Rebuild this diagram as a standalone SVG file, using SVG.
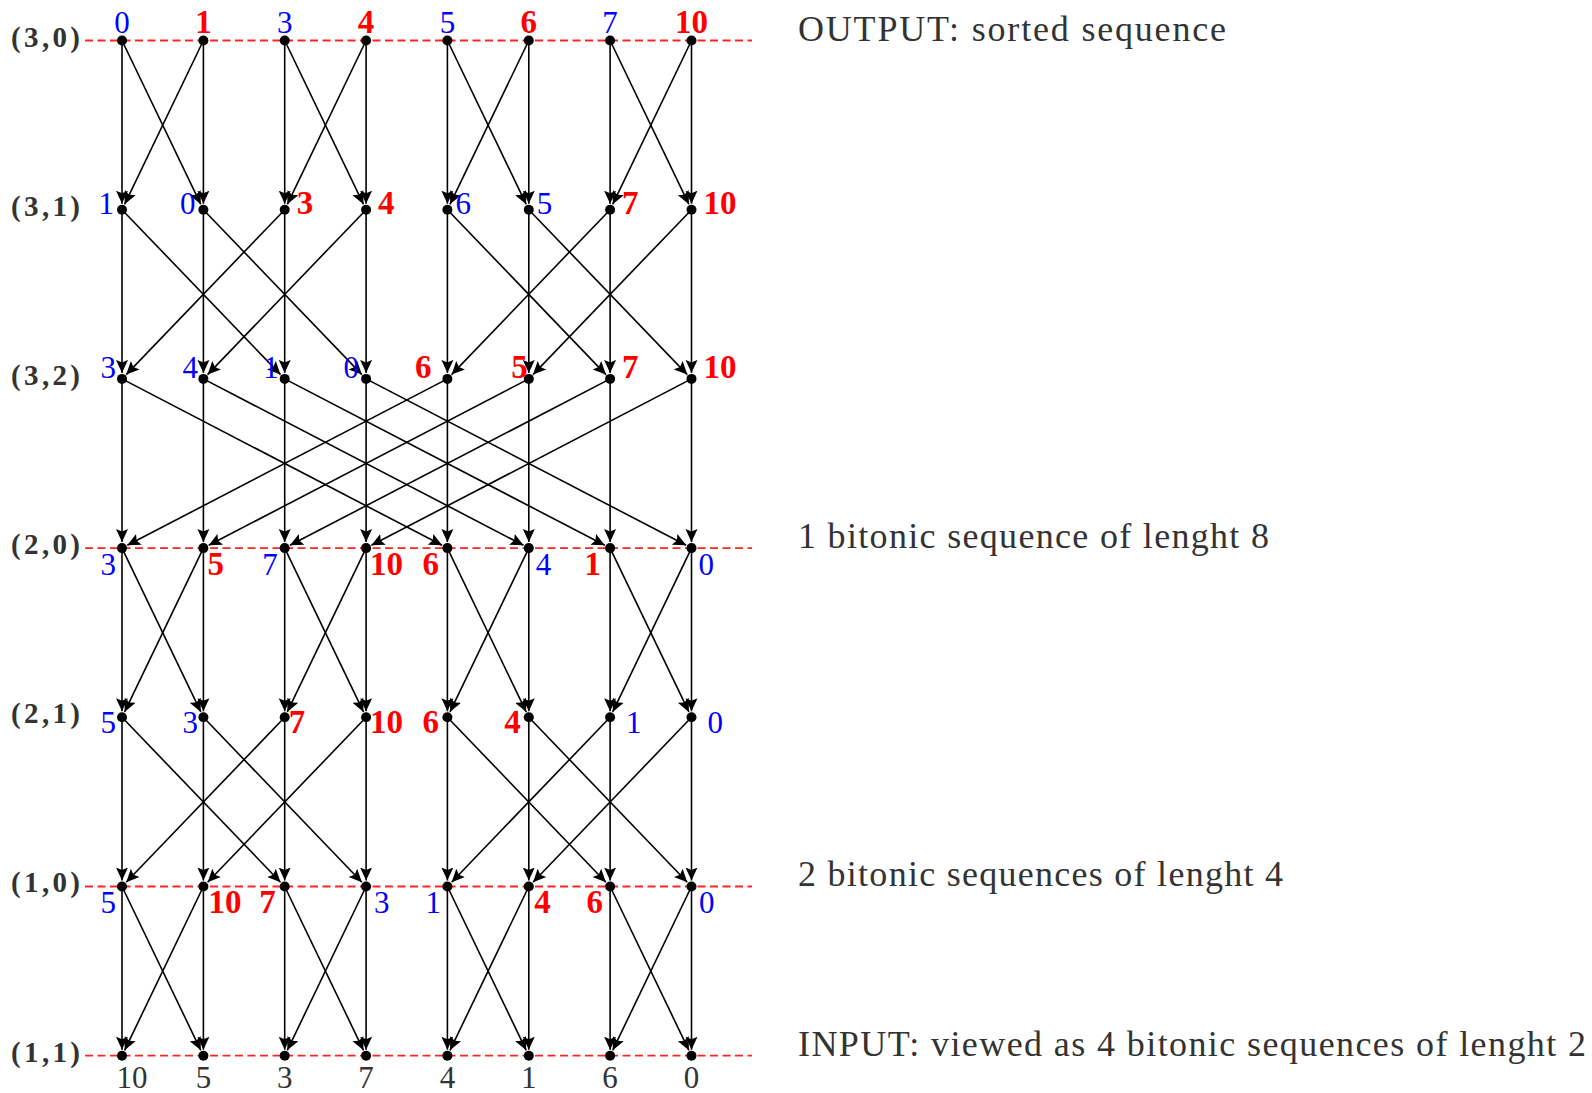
<svg xmlns="http://www.w3.org/2000/svg" width="1592" height="1093" viewBox="0 0 1592 1093">
<style>
.e{stroke:#000;stroke-width:1.6;marker-end:url(#arr);fill:none}
.dot{fill:#000}
.b{font-family:"Liberation Serif",serif;font-size:31px;fill:#0000ff}
.r{font-family:"Liberation Serif",serif;font-size:33px;font-weight:bold;fill:#ff0000}
.g{font-family:"Liberation Serif",serif;font-size:31px;fill:#333}
.rl{font-family:"Liberation Serif",serif;font-size:29px;font-weight:bold;fill:#333}
.t{font-family:"Liberation Serif",serif;font-size:36px;fill:#333}
.dash{stroke:#ff2424;stroke-width:1.8;stroke-dasharray:8 4.5;fill:none}
.s{text-anchor:start}.m{text-anchor:middle}.n{text-anchor:end}
</style>
<defs>
<marker id="arr" viewBox="-13 -7 13 14" refX="0" refY="0" markerWidth="13" markerHeight="14" orient="auto" markerUnits="userSpaceOnUse">
<path d="M0,0 L-13,-6 L-10.5,0 L-13,6 Z" fill="#000"/>
</marker>
</defs>
<rect width="1592" height="1093" fill="#fff"/>
<g id="level-lines">
<line class="dash" x1="85" y1="40.5" x2="752" y2="40.5"/>
<line class="dash" x1="85" y1="548.1" x2="752" y2="548.1"/>
<line class="dash" x1="85" y1="886.5" x2="752" y2="886.5"/>
<line class="dash" x1="85" y1="1055.7" x2="752" y2="1055.7"/>
</g>
<g id="row-labels">
<text class="rl" x="11" y="47" textLength="69" lengthAdjust="spacing">(3,0)</text>
<text class="rl" x="11" y="216" textLength="69" lengthAdjust="spacing">(3,1)</text>
<text class="rl" x="11" y="385" textLength="69" lengthAdjust="spacing">(3,2)</text>
<text class="rl" x="11" y="554" textLength="69" lengthAdjust="spacing">(2,0)</text>
<text class="rl" x="11" y="723" textLength="69" lengthAdjust="spacing">(2,1)</text>
<text class="rl" x="11" y="892" textLength="69" lengthAdjust="spacing">(1,0)</text>
<text class="rl" x="11" y="1062" textLength="69" lengthAdjust="spacing">(1,1)</text>
</g>
<g id="stage-notes">
<text class="t" x="798" y="41" textLength="428" lengthAdjust="spacing">OUTPUT: sorted sequence</text>
<text class="t" x="798" y="548" textLength="471" lengthAdjust="spacing">1 bitonic sequence of lenght 8</text>
<text class="t" x="798" y="886" textLength="485" lengthAdjust="spacing">2 bitonic sequences of lenght 4</text>
<text class="t" x="798" y="1056" textLength="788" lengthAdjust="spacing">INPUT: viewed as 4 bitonic sequences of lenght 2</text>
</g>
<g id="connectors">
<!-- layer 0 -->
<line class="e" x1="122" y1="40.5" x2="122" y2="203.7"/>
<line class="e" x1="203.4" y1="40.5" x2="203.4" y2="203.7"/>
<line class="e" x1="284.7" y1="40.5" x2="284.7" y2="203.7"/>
<line class="e" x1="366.1" y1="40.5" x2="366.1" y2="203.7"/>
<line class="e" x1="447.4" y1="40.5" x2="447.4" y2="203.7"/>
<line class="e" x1="528.8" y1="40.5" x2="528.8" y2="203.7"/>
<line class="e" x1="610.1" y1="40.5" x2="610.1" y2="203.7"/>
<line class="e" x1="691.5" y1="40.5" x2="691.5" y2="203.7"/>
<line class="e" x1="122" y1="40.5" x2="200.8" y2="204.3"/>
<line class="e" x1="203.4" y1="40.5" x2="124.6" y2="204.3"/>
<line class="e" x1="284.7" y1="40.5" x2="363.5" y2="204.3"/>
<line class="e" x1="366.1" y1="40.5" x2="287.3" y2="204.3"/>
<line class="e" x1="447.4" y1="40.5" x2="526.2" y2="204.3"/>
<line class="e" x1="528.8" y1="40.5" x2="450" y2="204.3"/>
<line class="e" x1="610.1" y1="40.5" x2="688.9" y2="204.3"/>
<line class="e" x1="691.5" y1="40.5" x2="612.7" y2="204.3"/>
<!-- layer 1 -->
<line class="e" x1="122" y1="209.7" x2="122" y2="372.9"/>
<line class="e" x1="203.4" y1="209.7" x2="203.4" y2="372.9"/>
<line class="e" x1="284.7" y1="209.7" x2="284.7" y2="372.9"/>
<line class="e" x1="366.1" y1="209.7" x2="366.1" y2="372.9"/>
<line class="e" x1="447.4" y1="209.7" x2="447.4" y2="372.9"/>
<line class="e" x1="528.8" y1="209.7" x2="528.8" y2="372.9"/>
<line class="e" x1="610.1" y1="209.7" x2="610.1" y2="372.9"/>
<line class="e" x1="691.5" y1="209.7" x2="691.5" y2="372.9"/>
<line class="e" x1="122" y1="209.7" x2="280.5" y2="374.6"/>
<line class="e" x1="203.4" y1="209.7" x2="361.9" y2="374.6"/>
<line class="e" x1="284.7" y1="209.7" x2="126.2" y2="374.6"/>
<line class="e" x1="366.1" y1="209.7" x2="207.6" y2="374.6"/>
<line class="e" x1="447.4" y1="209.7" x2="605.9" y2="374.6"/>
<line class="e" x1="528.8" y1="209.7" x2="687.3" y2="374.6"/>
<line class="e" x1="610.1" y1="209.7" x2="451.6" y2="374.6"/>
<line class="e" x1="691.5" y1="209.7" x2="533" y2="374.6"/>
<!-- layer 2 -->
<line class="e" x1="122" y1="378.9" x2="122" y2="542.1"/>
<line class="e" x1="203.4" y1="378.9" x2="203.4" y2="542.1"/>
<line class="e" x1="284.7" y1="378.9" x2="284.7" y2="542.1"/>
<line class="e" x1="366.1" y1="378.9" x2="366.1" y2="542.1"/>
<line class="e" x1="447.4" y1="378.9" x2="447.4" y2="542.1"/>
<line class="e" x1="528.8" y1="378.9" x2="528.8" y2="542.1"/>
<line class="e" x1="610.1" y1="378.9" x2="610.1" y2="542.1"/>
<line class="e" x1="691.5" y1="378.9" x2="691.5" y2="542.1"/>
<line class="e" x1="122" y1="378.9" x2="442.1" y2="545.3"/>
<line class="e" x1="203.4" y1="378.9" x2="523.5" y2="545.3"/>
<line class="e" x1="284.7" y1="378.9" x2="604.8" y2="545.3"/>
<line class="e" x1="366.1" y1="378.9" x2="686.2" y2="545.3"/>
<line class="e" x1="447.4" y1="378.9" x2="127.3" y2="545.3"/>
<line class="e" x1="528.8" y1="378.9" x2="208.7" y2="545.3"/>
<line class="e" x1="610.1" y1="378.9" x2="290" y2="545.3"/>
<line class="e" x1="691.5" y1="378.9" x2="371.4" y2="545.3"/>
<!-- layer 3 -->
<line class="e" x1="122" y1="548.1" x2="122" y2="711.3"/>
<line class="e" x1="203.4" y1="548.1" x2="203.4" y2="711.3"/>
<line class="e" x1="284.7" y1="548.1" x2="284.7" y2="711.3"/>
<line class="e" x1="366.1" y1="548.1" x2="366.1" y2="711.3"/>
<line class="e" x1="447.4" y1="548.1" x2="447.4" y2="711.3"/>
<line class="e" x1="528.8" y1="548.1" x2="528.8" y2="711.3"/>
<line class="e" x1="610.1" y1="548.1" x2="610.1" y2="711.3"/>
<line class="e" x1="691.5" y1="548.1" x2="691.5" y2="711.3"/>
<line class="e" x1="122" y1="548.1" x2="200.8" y2="711.9"/>
<line class="e" x1="203.4" y1="548.1" x2="124.6" y2="711.9"/>
<line class="e" x1="284.7" y1="548.1" x2="363.5" y2="711.9"/>
<line class="e" x1="366.1" y1="548.1" x2="287.3" y2="711.9"/>
<line class="e" x1="447.4" y1="548.1" x2="526.2" y2="711.9"/>
<line class="e" x1="528.8" y1="548.1" x2="450" y2="711.9"/>
<line class="e" x1="610.1" y1="548.1" x2="688.9" y2="711.9"/>
<line class="e" x1="691.5" y1="548.1" x2="612.7" y2="711.9"/>
<!-- layer 4 -->
<line class="e" x1="122" y1="717.3" x2="122" y2="880.5"/>
<line class="e" x1="203.4" y1="717.3" x2="203.4" y2="880.5"/>
<line class="e" x1="284.7" y1="717.3" x2="284.7" y2="880.5"/>
<line class="e" x1="366.1" y1="717.3" x2="366.1" y2="880.5"/>
<line class="e" x1="447.4" y1="717.3" x2="447.4" y2="880.5"/>
<line class="e" x1="528.8" y1="717.3" x2="528.8" y2="880.5"/>
<line class="e" x1="610.1" y1="717.3" x2="610.1" y2="880.5"/>
<line class="e" x1="691.5" y1="717.3" x2="691.5" y2="880.5"/>
<line class="e" x1="122" y1="717.3" x2="280.5" y2="882.2"/>
<line class="e" x1="203.4" y1="717.3" x2="361.9" y2="882.2"/>
<line class="e" x1="284.7" y1="717.3" x2="126.2" y2="882.2"/>
<line class="e" x1="366.1" y1="717.3" x2="207.6" y2="882.2"/>
<line class="e" x1="447.4" y1="717.3" x2="605.9" y2="882.2"/>
<line class="e" x1="528.8" y1="717.3" x2="687.3" y2="882.2"/>
<line class="e" x1="610.1" y1="717.3" x2="451.6" y2="882.2"/>
<line class="e" x1="691.5" y1="717.3" x2="533" y2="882.2"/>
<!-- layer 5 -->
<line class="e" x1="122" y1="886.5" x2="122" y2="1049.7"/>
<line class="e" x1="203.4" y1="886.5" x2="203.4" y2="1049.7"/>
<line class="e" x1="284.7" y1="886.5" x2="284.7" y2="1049.7"/>
<line class="e" x1="366.1" y1="886.5" x2="366.1" y2="1049.7"/>
<line class="e" x1="447.4" y1="886.5" x2="447.4" y2="1049.7"/>
<line class="e" x1="528.8" y1="886.5" x2="528.8" y2="1049.7"/>
<line class="e" x1="610.1" y1="886.5" x2="610.1" y2="1049.7"/>
<line class="e" x1="691.5" y1="886.5" x2="691.5" y2="1049.7"/>
<line class="e" x1="122" y1="886.5" x2="200.8" y2="1050.3"/>
<line class="e" x1="203.4" y1="886.5" x2="124.6" y2="1050.3"/>
<line class="e" x1="284.7" y1="886.5" x2="363.5" y2="1050.3"/>
<line class="e" x1="366.1" y1="886.5" x2="287.3" y2="1050.3"/>
<line class="e" x1="447.4" y1="886.5" x2="526.2" y2="1050.3"/>
<line class="e" x1="528.8" y1="886.5" x2="450" y2="1050.3"/>
<line class="e" x1="610.1" y1="886.5" x2="688.9" y2="1050.3"/>
<line class="e" x1="691.5" y1="886.5" x2="612.7" y2="1050.3"/>
</g>
<!-- row (3,0) -->
<g id="n30_0"><circle class="dot" cx="122" cy="40.5" r="5"/><text class="b m" x="122" y="32.5">0</text></g>
<g id="n30_1"><circle class="dot" cx="203.4" cy="40.5" r="5"/><text class="r m" x="203.4" y="32.5">1</text></g>
<g id="n30_2"><circle class="dot" cx="284.7" cy="40.5" r="5"/><text class="b m" x="284.7" y="32.5">3</text></g>
<g id="n30_3"><circle class="dot" cx="366.1" cy="40.5" r="5"/><text class="r m" x="366.1" y="32.5">4</text></g>
<g id="n30_4"><circle class="dot" cx="447.4" cy="40.5" r="5"/><text class="b m" x="447.4" y="32.5">5</text></g>
<g id="n30_5"><circle class="dot" cx="528.8" cy="40.5" r="5"/><text class="r m" x="528.8" y="32.5">6</text></g>
<g id="n30_6"><circle class="dot" cx="610.1" cy="40.5" r="5"/><text class="b m" x="610.1" y="32.5">7</text></g>
<g id="n30_7"><circle class="dot" cx="691.5" cy="40.5" r="5"/><text class="r m" x="691.5" y="32.5">10</text></g>
<!-- row (3,1) -->
<g id="n31_0"><circle class="dot" cx="122" cy="209.7" r="5"/><text class="b n" x="114" y="213.5">1</text></g>
<g id="n31_1"><circle class="dot" cx="203.4" cy="209.7" r="5"/><text class="b n" x="195.4" y="213.5">0</text></g>
<g id="n31_2"><circle class="dot" cx="284.7" cy="209.7" r="5"/><text class="r s" x="296.7" y="213.5">3</text></g>
<g id="n31_3"><circle class="dot" cx="366.1" cy="209.7" r="5"/><text class="r s" x="378.1" y="213.5">4</text></g>
<g id="n31_4"><circle class="dot" cx="447.4" cy="209.7" r="5"/><text class="b s" x="455.4" y="213.5">6</text></g>
<g id="n31_5"><circle class="dot" cx="528.8" cy="209.7" r="5"/><text class="b s" x="536.8" y="213.5">5</text></g>
<g id="n31_6"><circle class="dot" cx="610.1" cy="209.7" r="5"/><text class="r s" x="622.1" y="213.5">7</text></g>
<g id="n31_7"><circle class="dot" cx="691.5" cy="209.7" r="5"/><text class="r s" x="703.5" y="213.5">10</text></g>
<!-- row (3,2) -->
<g id="n32_0"><circle class="dot" cx="122" cy="378.9" r="5"/><text class="b n" x="116" y="378">3</text></g>
<g id="n32_1"><circle class="dot" cx="203.4" cy="378.9" r="5"/><text class="b n" x="197.9" y="378">4</text></g>
<g id="n32_2"><circle class="dot" cx="284.7" cy="378.9" r="5"/><text class="b n" x="278.7" y="378">1</text></g>
<g id="n32_3"><circle class="dot" cx="366.1" cy="378.9" r="5"/><text class="b n" x="359.1" y="378">0</text></g>
<g id="n32_4"><circle class="dot" cx="447.4" cy="378.9" r="5"/><text class="r n" x="431.4" y="378">6</text></g>
<g id="n32_5"><circle class="dot" cx="528.8" cy="378.9" r="5"/><text class="r n" x="527.8" y="378">5</text></g>
<g id="n32_6"><circle class="dot" cx="610.1" cy="378.9" r="5"/><text class="r s" x="622.1" y="378">7</text></g>
<g id="n32_7"><circle class="dot" cx="691.5" cy="378.9" r="5"/><text class="r s" x="703.5" y="378">10</text></g>
<!-- row (2,0) -->
<g id="n20_0"><circle class="dot" cx="122" cy="548.1" r="5"/><text class="b n" x="116" y="575">3</text></g>
<g id="n20_1"><circle class="dot" cx="203.4" cy="548.1" r="5"/><text class="r s" x="207.4" y="575">5</text></g>
<g id="n20_2"><circle class="dot" cx="284.7" cy="548.1" r="5"/><text class="b n" x="277.7" y="575">7</text></g>
<g id="n20_3"><circle class="dot" cx="366.1" cy="548.1" r="5"/><text class="r s" x="370.1" y="575">10</text></g>
<g id="n20_4"><circle class="dot" cx="447.4" cy="548.1" r="5"/><text class="r n" x="438.9" y="575">6</text></g>
<g id="n20_5"><circle class="dot" cx="528.8" cy="548.1" r="5"/><text class="b s" x="535.8" y="575">4</text></g>
<g id="n20_6"><circle class="dot" cx="610.1" cy="548.1" r="5"/><text class="r n" x="601.1" y="575">1</text></g>
<g id="n20_7"><circle class="dot" cx="691.5" cy="548.1" r="5"/><text class="b s" x="698.5" y="575">0</text></g>
<!-- row (2,1) -->
<g id="n21_0"><circle class="dot" cx="122" cy="717.3" r="5"/><text class="b n" x="116" y="733.3">5</text></g>
<g id="n21_1"><circle class="dot" cx="203.4" cy="717.3" r="5"/><text class="b n" x="197.9" y="733.3">3</text></g>
<g id="n21_2"><circle class="dot" cx="284.7" cy="717.3" r="5"/><text class="r s" x="288.7" y="733.3">7</text></g>
<g id="n21_3"><circle class="dot" cx="366.1" cy="717.3" r="5"/><text class="r s" x="370.1" y="733.3">10</text></g>
<g id="n21_4"><circle class="dot" cx="447.4" cy="717.3" r="5"/><text class="r n" x="438.9" y="733.3">6</text></g>
<g id="n21_5"><circle class="dot" cx="528.8" cy="717.3" r="5"/><text class="r n" x="520.8" y="733.3">4</text></g>
<g id="n21_6"><circle class="dot" cx="610.1" cy="717.3" r="5"/><text class="b s" x="626.1" y="733.3">1</text></g>
<g id="n21_7"><circle class="dot" cx="691.5" cy="717.3" r="5"/><text class="b s" x="707.5" y="733.3">0</text></g>
<!-- row (1,0) -->
<g id="n10_0"><circle class="dot" cx="122" cy="886.5" r="5"/><text class="b n" x="116" y="912.5">5</text></g>
<g id="n10_1"><circle class="dot" cx="203.4" cy="886.5" r="5"/><text class="r s" x="208.4" y="912.5">10</text></g>
<g id="n10_2"><circle class="dot" cx="284.7" cy="886.5" r="5"/><text class="r n" x="275.7" y="912.5">7</text></g>
<g id="n10_3"><circle class="dot" cx="366.1" cy="886.5" r="5"/><text class="b s" x="374.1" y="912.5">3</text></g>
<g id="n10_4"><circle class="dot" cx="447.4" cy="886.5" r="5"/><text class="b n" x="440.9" y="912.5">1</text></g>
<g id="n10_5"><circle class="dot" cx="528.8" cy="886.5" r="5"/><text class="r s" x="534.3" y="912.5">4</text></g>
<g id="n10_6"><circle class="dot" cx="610.1" cy="886.5" r="5"/><text class="r n" x="603.1" y="912.5">6</text></g>
<g id="n10_7"><circle class="dot" cx="691.5" cy="886.5" r="5"/><text class="b s" x="699" y="912.5">0</text></g>
<!-- row (1,1) -->
<g id="n11_0"><circle class="dot" cx="122" cy="1055.7" r="5"/><text class="g m" x="132" y="1088">10</text></g>
<g id="n11_1"><circle class="dot" cx="203.4" cy="1055.7" r="5"/><text class="g m" x="203.4" y="1088">5</text></g>
<g id="n11_2"><circle class="dot" cx="284.7" cy="1055.7" r="5"/><text class="g m" x="284.7" y="1088">3</text></g>
<g id="n11_3"><circle class="dot" cx="366.1" cy="1055.7" r="5"/><text class="g m" x="366.1" y="1088">7</text></g>
<g id="n11_4"><circle class="dot" cx="447.4" cy="1055.7" r="5"/><text class="g m" x="447.4" y="1088">4</text></g>
<g id="n11_5"><circle class="dot" cx="528.8" cy="1055.7" r="5"/><text class="g m" x="528.8" y="1088">1</text></g>
<g id="n11_6"><circle class="dot" cx="610.1" cy="1055.7" r="5"/><text class="g m" x="610.1" y="1088">6</text></g>
<g id="n11_7"><circle class="dot" cx="691.5" cy="1055.7" r="5"/><text class="g m" x="691.5" y="1088">0</text></g>
</svg>
